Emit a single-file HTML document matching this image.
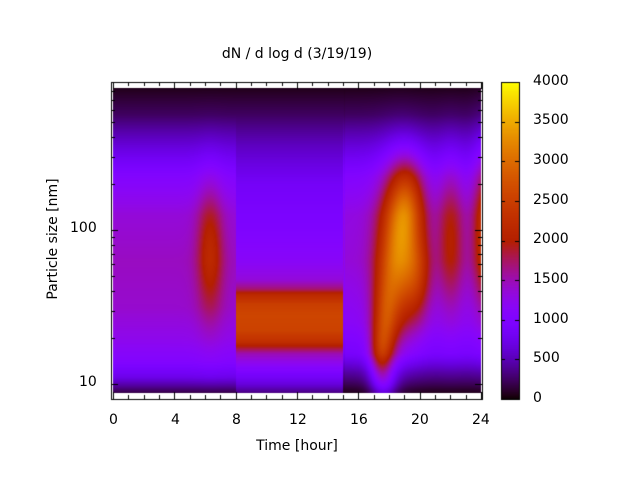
<!DOCTYPE html>
<html><head><meta charset="utf-8"><style>
body{margin:0;background:#fff;width:640px;height:480px;overflow:hidden;position:relative;font-family:"DejaVu Sans","Liberation Sans",sans-serif;}
canvas{position:absolute;left:0;top:0}
.t{position:absolute;font-size:14px;color:#000;white-space:nowrap}
</style></head><body>
<canvas id="c" width="640" height="480"></canvas>
<div class="t" style="left:0;width:594px;text-align:center;top:46px">dN / d log d (3/19/19)</div>
<div class="t" style="left:0;width:594px;text-align:center;top:438px">Time [hour]</div>
<div class="t" style="left:-17px;top:231px;transform:rotate(-90deg);width:140px;text-align:center">Particle size [nm]</div>
<div class="t" style="left:70px;top:220px">100</div>
<div class="t" style="left:79px;top:374px">10</div>
<div class="t" style="left:109px;top:412px">0</div>
<div class="t" style="left:171px;top:412px">4</div>
<div class="t" style="left:232px;top:412px">8</div>
<div class="t" style="left:289px;top:412px">12</div>
<div class="t" style="left:350px;top:412px">16</div>
<div class="t" style="left:411px;top:412px">20</div>
<div class="t" style="left:472px;top:412px">24</div>
<div class="t" style="left:533px;top:73px">4000</div>
<div class="t" style="left:533px;top:112px">3500</div>
<div class="t" style="left:533px;top:152px">3000</div>
<div class="t" style="left:533px;top:192px">2500</div>
<div class="t" style="left:533px;top:231px">2000</div>
<div class="t" style="left:533px;top:271px">1500</div>
<div class="t" style="left:533px;top:311px">1000</div>
<div class="t" style="left:533px;top:350px">500</div>
<div class="t" style="left:533px;top:390px">0</div>
<script>
var c=document.getElementById('c').getContext('2d');
function pal(x){x=Math.max(0,Math.min(1,x));var r=Math.sqrt(x),g=x*x*x,b=Math.sin(2*Math.PI*x);if(b<0)b=0;return [r*255|0,g*255|0,b*255|0];}
function interp(pts,y){if(y>=pts[0][0])return pts[0][1];for(var i=1;i<pts.length;i++){if(y>=pts[i][0]){var a=pts[i-1],b=pts[i];var f=(y-b[0])/(a[0]-b[0]);return b[1]+f*(a[1]-b[1]);}}return pts[pts.length-1][1];}
var baseL=[[2.93,60],[2.75,250],[2.55,650],[2.35,1050],[2.1,1350],[1.8,1450],[1.5,1400],[1.3,1250],[1.15,1050],[1.05,750],[0.97,300],[0.94,150]];
var baseM=[[2.93,60],[2.75,250],[2.55,550],[2.3,850],[2.0,1000],[1.8,1150],[1.68,1350],[1.62,1700],[1.58,2200],[1.52,2500],[1.45,2600],[1.35,2550],[1.28,2300],[1.24,1900],[1.2,1500],[1.1,1050],[1.0,650],[0.94,300]];
var baseR=[[2.93,60],[2.75,250],[2.55,650],[2.35,1050],[2.1,1300],[1.8,1350],[1.4,1150],[1.2,900],[1.08,450],[0.97,120],[0.94,60]];
var blobs=[[6.3,1.86,750,0.6,0.3],[17.4,1.2,750,0.5,0.12],[17.7,1.4,1050,0.6,0.22],[18.6,1.85,1750,0.95,0.33],[19.2,2.2,900,0.8,0.2],[19.9,1.7,600,0.6,0.2],[22.0,1.95,700,0.6,0.32],[24.3,2.0,1100,0.6,0.35],[17.6,1.0,450,0.6,0.08]];
var X0=113,X1=481,Y0=88,Y1=393;
var img=c.createImageData(X1-X0,Y1-Y0);
for(var py=0;py<Y1-Y0;py++){var y=2+(230-(Y0+py))/154;
for(var px=0;px<X1-X0;px++){var t=px/(X1-X0)*24;var v;
if(t<8)v=interp(baseL,y);else if(t<15)v=interp(baseM,y);else v=interp(baseR,y);
if(t>=15||t<8){for(var k=0;k<blobs.length;k++){var b=blobs[k];var dt=(t-b[0])/b[3],dy=(y-b[1])/b[4];v+=b[2]*Math.exp(-0.5*(dt*dt+dy*dy));}}
if(t>15&&t<15.12)v*=0.9;
var col=pal(v/4000);var i=(py*(X1-X0)+px)*4;img.data[i]=col[0];img.data[i+1]=col[1];img.data[i+2]=col[2];img.data[i+3]=255;}}
c.putImageData(img,X0,Y0);
for(var py=82;py<399;py++){var col=pal((399-py)/317);c.fillStyle='rgb('+col+')';c.fillRect(501,py,18,1);}
c.strokeStyle='#000';c.lineWidth=1;
c.strokeRect(111.5,82.5,371,317);c.strokeRect(501.5,82.5,18,317);
c.beginPath();
for(var h=0;h<=24;h++){var x=Math.round(113+h*368/24)+0.5;var L=(h%4==0)?7:4;c.moveTo(x,399);c.lineTo(x,399-L);c.moveTo(x,82);c.lineTo(x,82+L);}
[10,20,30,40,50,60,70,80,90,100,200,300,400,500,600,700,800].forEach(function(d){var y=Math.round(230-(Math.log10(d)-2)*154)+0.5;var L=(d==10||d==100)?7:4;c.moveTo(111,y);c.lineTo(111+L,y);c.moveTo(482,y);c.lineTo(482-L,y);});
for(var k=0;k<=8;k++){var y=Math.round(399-k*317/8)+0.5;c.moveTo(501,y);c.lineTo(505,y);c.moveTo(519,y);c.lineTo(515,y);}
c.stroke();
</script>
</body></html>
